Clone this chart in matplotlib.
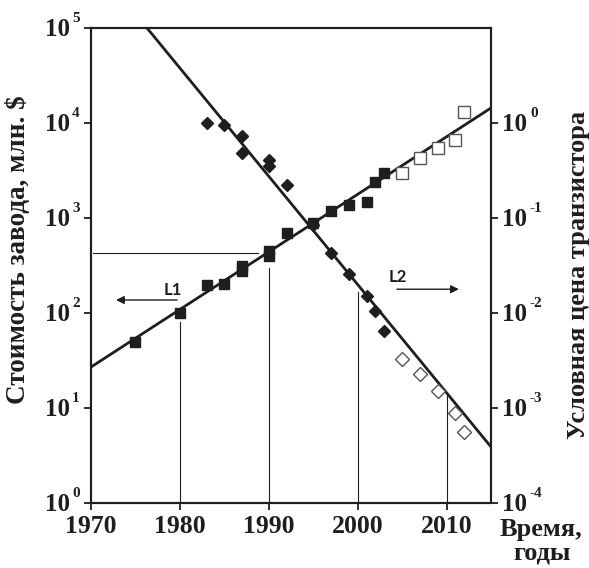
import numpy as np
import matplotlib
matplotlib.use("Agg")
import matplotlib.pyplot as plt
import matplotlib.transforms as mtransforms
from matplotlib.ticker import FixedLocator, NullFormatter, NullLocator

# fab cost, mln $ (left axis)
fab_years = [1975, 1980, 1983, 1985, 1987, 1987, 1990, 1990, 1992, 1995,
             1997, 1999, 2001, 2002, 2003]
fab_cost = [50, 100, 195, 200, 310, 280, 450, 400, 700, 880,
            1180, 1360, 1480, 2400, 3000]
fab_years_fc = [2005, 2007, 2009, 2011, 2012]
fab_cost_fc = [2950, 4300, 5500, 6700, 13000]

# relative transistor price (right axis)
price_years = [1983, 1985, 1987, 1987, 1990, 1990, 1992, 1995,
               1997, 1999, 2001, 2002, 2003]
price = [1.0, 0.95, 0.73, 0.48, 0.41, 0.35, 0.22, 0.085,
         0.043, 0.026, 0.015, 0.0105, 0.0065]
price_years_fc = [2005, 2007, 2009, 2011, 2012]
price_fc = [0.0033, 0.0023, 0.0015, 0.00088, 0.00056]

# trend lines
l1_years = [1970, 2015]
l1_vals = [27, 14400]
l2_years = [1976.3, 2015]
l2_vals = [10, 3.9e-4]

left_exp = [0, 1, 2, 3, 4, 5]
right_exp = [-4, -3, -2, -1, 0]

col = '#1e1e1e'
serif = 'Liberation Serif'

fig = plt.figure(figsize=(5.89, 5.68), dpi=100)
ax = fig.add_axes([0.1545, 0.1144, 0.6791, 0.8363])
ax2 = ax.twinx()

ax.set_xlim(1970, 2015)
ax.set_yscale('log')
ax.set_ylim(1, 1e5)
ax2.set_yscale('log')
ax2.set_ylim(1e-4, 10)

# guide lines
ax.plot([1970.2, 1988.8], [427, 427], color=col, lw=0.8)
ax.plot([1980, 1980], [1, 81], color=col, lw=0.8)
ax.plot([1990, 1990], [1, 296], color=col, lw=0.8)
ax.plot([2000, 2000], [1, 167], color=col, lw=0.8)
ax.plot([2010, 2010], [1, 13.7], color=col, lw=0.8)

ax.plot(l1_years, l1_vals, color=col, lw=2.0)
ax2.plot(l2_years, l2_vals, color=col, lw=2.0)

ax.plot(fab_years, fab_cost, 's', color=col, ms=7.5, zorder=5)
ax.plot(fab_years_fc, fab_cost_fc, 's', mfc='white', mec='#555555', mew=1.0, ms=9, zorder=5)
ax2.plot(price_years, price, 'D', color=col, ms=6.3, zorder=5)
ax2.plot(price_years_fc, price_fc, 'D', mfc='white', mec='#555555', mew=1.0, ms=6.8, zorder=5)

# L1 / L2 labels with arrows
ax.text(1979.2, 175, 'L1', fontsize=12, fontweight='bold', family='Lato',
        color=col, ha='center', va='center')
ax.annotate('', xy=(1972.5, 137), xytext=(1980.0, 137),
            arrowprops=dict(arrowstyle='-|>', color=col, lw=1.0, mutation_scale=12))
ax.text(2004.5, 240, 'L2', fontsize=12, fontweight='bold', family='Lato',
        color=col, ha='center', va='center')
ax.annotate('', xy=(2011.7, 178), xytext=(2004.1, 178),
            arrowprops=dict(arrowstyle='-|>', color=col, lw=1.0, mutation_scale=12))

ax.yaxis.set_major_locator(FixedLocator([10.0 ** e for e in left_exp]))
ax2.yaxis.set_major_locator(FixedLocator([10.0 ** e for e in right_exp]))
for a in (ax, ax2):
    a.yaxis.set_major_formatter(NullFormatter())
    a.yaxis.set_minor_locator(NullLocator())
    a.yaxis.set_minor_formatter(NullFormatter())
ax.set_xticks([1970, 1980, 1990, 2000, 2010])

for a in (ax, ax2):
    for s in a.spines.values():
        s.set_linewidth(1.5)
        s.set_color(col)
    a.tick_params(direction='out', length=5, width=1.3, colors=col, labelsize=18.5)

for lab in ax.get_xticklabels():
    lab.set_family(serif)
    lab.set_fontweight('bold')


# power-of-ten tick labels: big "10" with a small raised exponent
def exp_label(a, side, e):
    tr_base = a.get_yaxis_transform()
    y = 10.0 ** e
    xa = 0 if side == 'left' else 1
    if side == 'left':
        off_num, off_exp = -21, -19
        ha_num = 'right'
    else:
        off_num, off_exp = 11, 39
        ha_num = 'left'
    t1 = tr_base + mtransforms.ScaledTranslation(off_num / 100, -8 / 100, fig.dpi_scale_trans)
    t2 = tr_base + mtransforms.ScaledTranslation(off_exp / 100, 6 / 100, fig.dpi_scale_trans)
    a.text(xa, y, '10', transform=t1, ha=ha_num, va='baseline', family=serif,
           fontweight='bold', fontsize=18, color=col, clip_on=False)
    a.text(xa, y, str(e), transform=t2, ha='left', va='baseline',
           family=serif, fontweight='bold', fontsize=11, color=col, clip_on=False)


for e in left_exp:
    exp_label(ax, 'left', e)
for e in right_exp:
    exp_label(ax2, 'right', e)

fig.text(0.031, 0.56, 'Стоимость завода, млн. $', family=serif, fontweight='bold',
         fontsize=19.5, color=col, rotation=90, ha='center', va='center')
fig.text(0.982, 0.516, 'Условная цена транзистора', family=serif, fontweight='bold',
         fontsize=19, color=col, rotation=90, ha='center', va='center')

fig.text(0.9185, 1 - 536 / 568, 'Время,', family=serif, fontweight='bold',
         fontsize=19, color=col, ha='center', va='baseline')
fig.text(0.921, 1 - 560 / 568, 'годы', family=serif, fontweight='bold',
         fontsize=19, color=col, ha='center', va='baseline')

fig.savefig('out.png', dpi=100)
